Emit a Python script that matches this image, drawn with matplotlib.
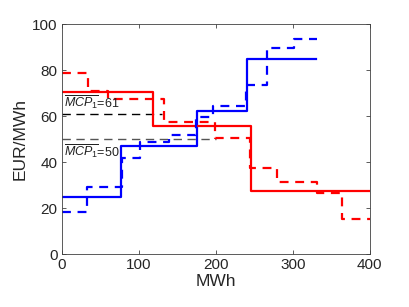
import matplotlib
matplotlib.use("Agg")
import matplotlib.pyplot as plt

plt.rcParams['font.family'] = ['Liberation Sans', 'DejaVu Sans']
plt.rcParams['mathtext.fontset'] = 'custom'
plt.rcParams['mathtext.it'] = 'Liberation Sans:italic'
plt.rcParams['mathtext.rm'] = 'Liberation Sans'

# Supply (blue) and demand (red) step curves: breakpoints (MWh) and prices (EUR/MWh)
supply_x = [0, 77, 175, 240, 330]
supply_p = [25, 47, 62, 85]

demand_x = [0, 118, 245, 400]
demand_p = [70.5, 55.5, 27.5]

supply2_x = [0, 32, 77.5, 101, 139, 174, 196, 239, 267, 302, 331]
supply2_p = [18.4, 29.3, 41.7, 48.5, 51.7, 59.5, 64.5, 73.5, 89.4, 93.5]

demand2_x = [0, 34, 60, 133, 199, 244, 279, 331, 364, 400]
demand2_p = [78.6, 71, 67.3, 57.5, 50.5, 37.4, 31.3, 26.5, 15.4]

mcp_values = [61, 50]
mcp_ends = [130, 200]
mcp_labels = [r'$\overline{MCP_1}$=61', r'$\overline{MCP_1}$=50']
mcp_colors = ['black', '#555555']


def step_xy(xs, ps):
    X, Y = [], []
    for i, p in enumerate(ps):
        X += [xs[i], xs[i + 1]]
        Y += [p, p]
    return X, Y


fig = plt.figure(figsize=(4.10, 3.07), dpi=100)
ax = fig.add_axes([0.151, 0.1726, 0.751, 0.7492])

for v, e, c in zip(mcp_values, mcp_ends, mcp_colors):
    ax.plot([0, e], [v, v], color=c, lw=1.0, dashes=(6, 4))

X, Y = step_xy(supply_x, supply_p)
ax.plot(X, Y, color='#0000ff', lw=1.6)
X, Y = step_xy(demand_x, demand_p)
ax.plot(X, Y, color='#ff0000', lw=1.6)
X, Y = step_xy(supply2_x, supply2_p)
ax.plot(X, Y, color='#0000ff', lw=1.6, dashes=(4, 3))
X, Y = step_xy(demand2_x, demand2_p)
ax.plot(X, Y, color='#ff0000', lw=1.6, dashes=(4, 3))

ax.text(3, 62.3, mcp_labels[0], fontsize=9, color='#222222', va='bottom', ha='left')
ax.text(3, 48.6, mcp_labels[1], fontsize=9, color='#222222', va='top', ha='left')

ax.set_xlim(0, 400)
ax.set_ylim(0, 100)
ax.set_xticks([0, 100, 200, 300, 400])
ax.set_yticks([0, 20, 40, 60, 80, 100])
ax.tick_params(direction='in', length=3, width=0.6, colors='#404040', labelcolor='#262626',
               labelsize=11, top=True, right=True, pad=3)
for s in ax.spines.values():
    s.set_color('#404040')
    s.set_linewidth(0.6)
ax.set_xlabel('MWh', fontsize=12.5, color='#262626', labelpad=1)
ax.set_ylabel('EUR/MWh', fontsize=12.5, color='#262626', labelpad=3)

fig.savefig('out.png', dpi=100)
